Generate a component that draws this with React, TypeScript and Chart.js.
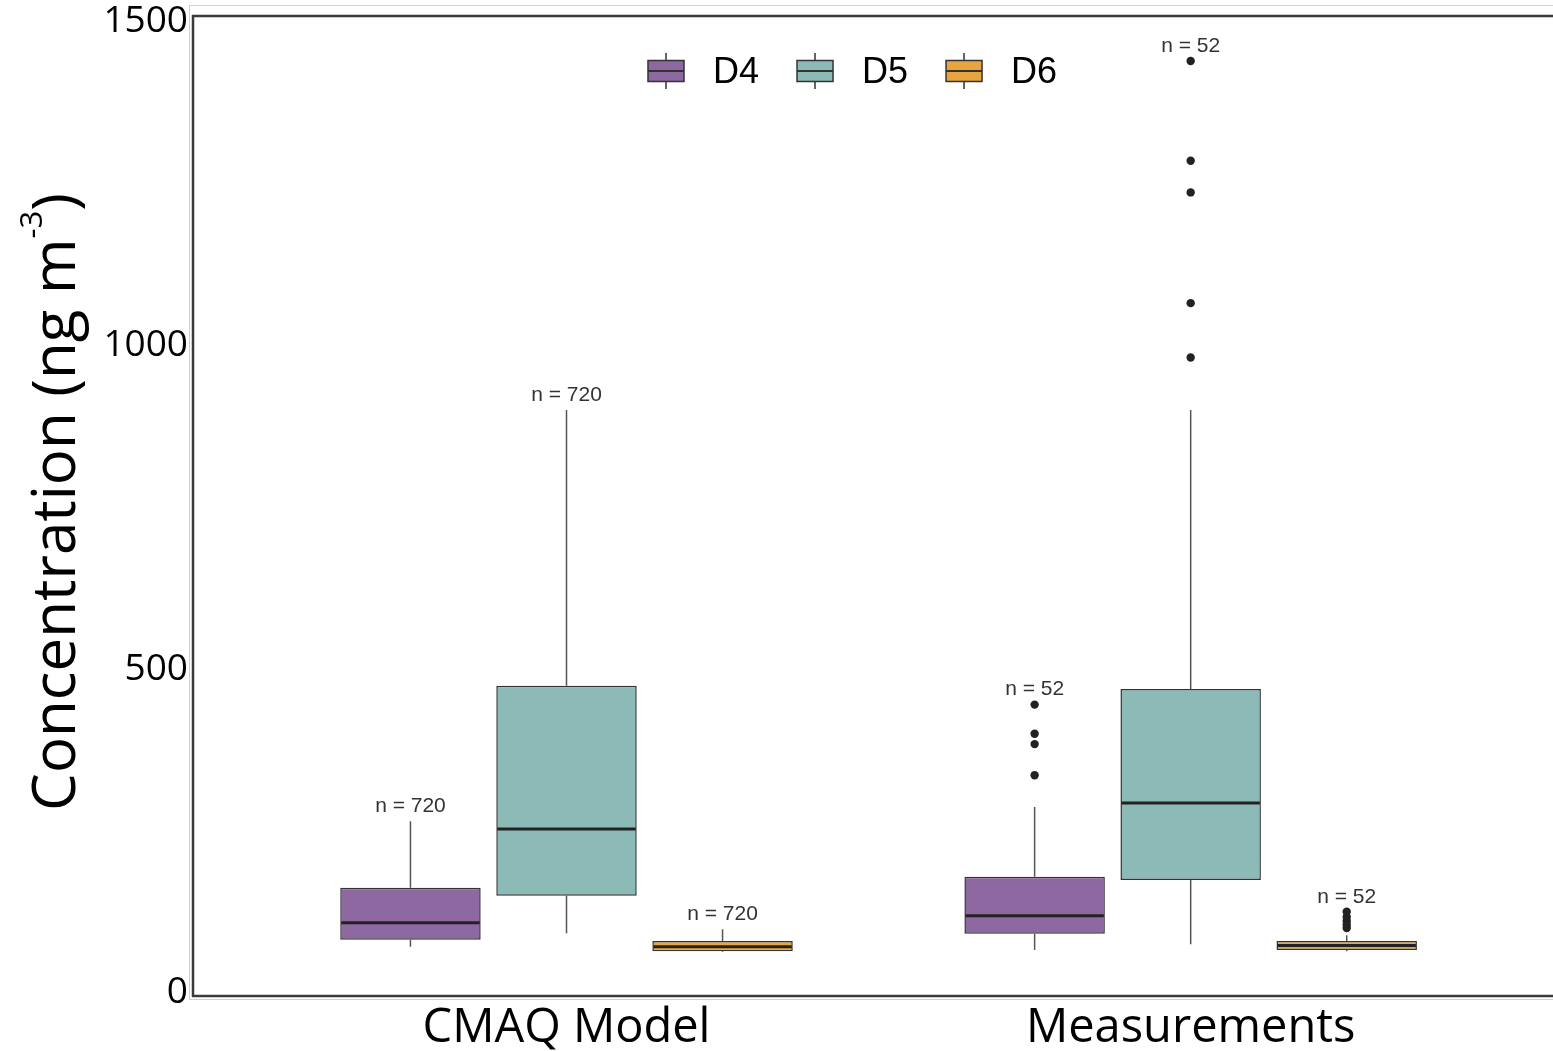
import React, { useEffect, useRef } from 'react';
import { Chart, registerables } from 'chart.js';

Chart.register(...registerables);

// ---------- data ----------
const GROUPS = ['CMAQ Model', 'Measurements'];
const GROUP_X = [1, 2];
const SERIES = ['D4', 'D5', 'D6'];
// five-number summaries per group: [min, q1, median, q3, max]  (ng m-3)
const D4_BOX = [[71, 82, 108, 162, 265], [66, 91, 119, 179, 287]];
const D5_BOX = [[92, 150, 253, 474, 900], [75, 174, 293, 469, 900]];
const D6_BOX = [[63, 64, 71, 80, 98], [64, 66, 73, 80, 89]];
// outliers per group
const D4_OUT = [[], [336, 384, 400, 445]];
const D5_OUT = [[], [981, 1065, 1236, 1285, 1439]];
const D6_OUT = [[], [100, 105, 111, 117, 125]];
const N_COUNTS = [720, 52];
const Y_TICKS = [0, 500, 1000, 1500];

// ---------- styles ----------
const FILLS = ['#8E68A0', '#8CBBB7', '#E8A53F'];
const BOXES = [D4_BOX, D5_BOX, D6_BOX];
const OUTS = [D4_OUT, D5_OUT, D6_OUT];
const Y_RANGE = [-5, 1510];
const X_RANGE = [0.4, 2.5805];

const boxPartsPlugin = {
  id: 'boxParts',
  beforeDatasetsDraw(chart: any) {
    const ctx = chart.ctx;
    const ys = chart.scales.y;
    ctx.save();
    ctx.strokeStyle = '#555';
    ctx.lineWidth = 1.5;
    BOXES.forEach((box, i) => {
      const meta = chart.getDatasetMeta(i);
      meta.data.forEach((el: any, j: number) => {
        const [mn, q1, , q3, mx] = box[j];
        ctx.beginPath();
        ctx.moveTo(el.x, ys.getPixelForValue(q3));
        ctx.lineTo(el.x, ys.getPixelForValue(mx));
        ctx.moveTo(el.x, ys.getPixelForValue(q1));
        ctx.lineTo(el.x, ys.getPixelForValue(mn));
        ctx.stroke();
      });
    });
    ctx.restore();
  },
  afterDatasetsDraw(chart: any) {
    const ctx = chart.ctx;
    const ys = chart.scales.y;
    ctx.save();
    BOXES.forEach((box, i) => {
      const meta = chart.getDatasetMeta(i);
      meta.data.forEach((el: any, j: number) => {
        const [, , md, , mx] = box[j];
        const half = el.width / 2;
        // median
        ctx.strokeStyle = '#222';
        ctx.lineWidth = 3;
        ctx.beginPath();
        ctx.moveTo(el.x - half + 1, ys.getPixelForValue(md));
        ctx.lineTo(el.x + half - 1, ys.getPixelForValue(md));
        ctx.stroke();
        // outliers
        const outs = OUTS[i][j];
        ctx.fillStyle = '#222';
        outs.forEach((v: number) => {
          ctx.beginPath();
          ctx.arc(el.x, ys.getPixelForValue(v), 4.2, 0, Math.PI * 2);
          ctx.fill();
        });
        // n label
        const top = Math.max(mx, ...outs);
        ctx.fillStyle = '#333';
        ctx.font = '21px "Liberation Sans", Arial, sans-serif';
        ctx.textAlign = 'center';
        ctx.textBaseline = 'middle';
        ctx.fillText('n = ' + N_COUNTS[j], el.x, ys.getPixelForValue(top) - 15);
      });
    });
    ctx.restore();
  },
};

const decorPlugin = {
  id: 'decor',
  afterDraw(chart: any) {
    const ctx = chart.ctx;
    const { left, top, bottom } = chart.chartArea;
    const W = chart.width;
    ctx.save();
    // outer light frame
    ctx.strokeStyle = '#cfcfcf';
    ctx.lineWidth = 1;
    ctx.beginPath();
    ctx.moveTo(left - 2.5, top - 10);
    ctx.lineTo(left - 2.5, bottom + 4);
    ctx.moveTo(left - 3, top - 9.5);
    ctx.lineTo(W, top - 9.5);
    ctx.moveTo(left - 3, bottom + 3.5);
    ctx.lineTo(W, bottom + 3.5);
    ctx.stroke();
    // dark panel frame
    ctx.strokeStyle = '#3a3a3a';
    ctx.lineWidth = 2.5;
    ctx.beginPath();
    ctx.moveTo(left + 1, top);
    ctx.lineTo(left + 1, bottom + 1);
    ctx.moveTo(left, top + 1);
    ctx.lineTo(W, top + 1);
    ctx.moveTo(left, bottom);
    ctx.lineTo(W, bottom);
    ctx.stroke();

    // legend
    const cy = top + 56;
    let ix = left + 456;
    ctx.font = '36px "Liberation Sans", Arial, sans-serif';
    ctx.textBaseline = 'middle';
    ctx.textAlign = 'left';
    SERIES.forEach((name, i) => {
      ctx.strokeStyle = '#333';
      ctx.lineWidth = 1.5;
      ctx.beginPath();
      ctx.moveTo(ix + 18, cy - 18);
      ctx.lineTo(ix + 18, cy + 18);
      ctx.stroke();
      ctx.fillStyle = FILLS[i];
      ctx.fillRect(ix, cy - 10.5, 36, 21);
      ctx.strokeRect(ix, cy - 10.5, 36, 21);
      ctx.lineWidth = 2;
      ctx.beginPath();
      ctx.moveTo(ix, cy);
      ctx.lineTo(ix + 36, cy);
      ctx.stroke();
      ctx.fillStyle = '#000';
      const tx = ix + 36 + 29;
      ctx.fillText(name, tx, cy + 2);
      ix = tx + ctx.measureText(name).width + 38;
    });

    // y-axis title with superscript
    const main = '60px "Open Sans", sans-serif';
    const sup = '31px "Open Sans", sans-serif';
    const p1 = 'Concentration (ng m';
    const p2 = '-3';
    const p3 = ')';
    ctx.font = main;
    const w1 = ctx.measureText(p1).width;
    const w3 = ctx.measureText(p3).width;
    ctx.font = sup;
    const w2 = ctx.measureText(p2).width;
    const total = w1 + w2 + w3;
    ctx.translate(75, 502);
    ctx.rotate(-Math.PI / 2);
    ctx.fillStyle = '#000';
    ctx.textBaseline = 'alphabetic';
    ctx.textAlign = 'left';
    let x0 = -total / 2;
    ctx.font = main;
    ctx.fillText(p1, x0, 0);
    x0 += w1;
    ctx.font = sup;
    ctx.fillText(p2, x0, -33);
    x0 += w2;
    ctx.font = main;
    ctx.fillText(p3, x0, 0);
    ctx.restore();
  },
};

export default function App() {
  const ref = useRef<HTMLCanvasElement | null>(null);
  useEffect(() => {
    if (!ref.current) return;
    const datasets = SERIES.map((name, i) => ({
      label: name,
      data: GROUP_X.map((gx, j) => ({ x: gx, y: [BOXES[i][j][1], BOXES[i][j][3]] })),
      backgroundColor: FILLS[i],
      borderColor: '#333',
      borderWidth: 1.5,
      borderSkipped: false as const,
      categoryPercentage: 0.75,
      barPercentage: 0.9,
    }));
    const chart = new Chart(ref.current, {
      type: 'bar',
      data: { datasets },
      options: {
        responsive: false,
        animation: false,
        layout: { padding: { top: 15, right: 0, left: 0, bottom: 0 } },
        plugins: { legend: { display: false }, tooltip: { enabled: false } },
        scales: {
          x: {
            type: 'linear',
            offset: false,
            min: X_RANGE[0],
            max: X_RANGE[1],
            grid: { display: false, drawTicks: false, offset: false },
            border: { display: false },
            afterBuildTicks: (s: any) => {
              s.ticks = GROUP_X.map((v) => ({ value: v }));
            },
            afterFit: (s: any) => {
              s.height = 55;
              s.paddingLeft = 0;
              s.paddingRight = 0;
            },
            ticks: {
              autoSkip: false,
              maxRotation: 0,
              padding: 4,
              color: '#000',
              font: { family: '"Open Sans", sans-serif', size: 47 },
              callback: (v: any) => GROUPS[GROUP_X.indexOf(Number(v))] ?? '',
            },
          },
          y: {
            type: 'linear',
            min: Y_RANGE[0],
            max: Y_RANGE[1],
            grid: { display: false, drawTicks: false },
            border: { display: false },
            afterBuildTicks: (s: any) => {
              s.ticks = Y_TICKS.map((v) => ({ value: v }));
            },
            afterFit: (s: any) => {
              s.width = 192;
              s.paddingTop = 0;
              s.paddingBottom = 0;
            },
            ticks: {
              padding: 4,
              color: '#000',
              font: { family: '"Open Sans", sans-serif', size: 37 },
              callback: (v: any) => String(v),
            },
          },
        },
      },
      plugins: [boxPartsPlugin, decorPlugin],
    });
    return () => chart.destroy();
  }, []);
  return (
    <div style={{ position: 'fixed', left: 0, top: 0, width: 1553, height: 1051, background: '#fff' }}>
      <canvas ref={ref} width={1553} height={1051} style={{ display: 'block' }} />
    </div>
  );
}
